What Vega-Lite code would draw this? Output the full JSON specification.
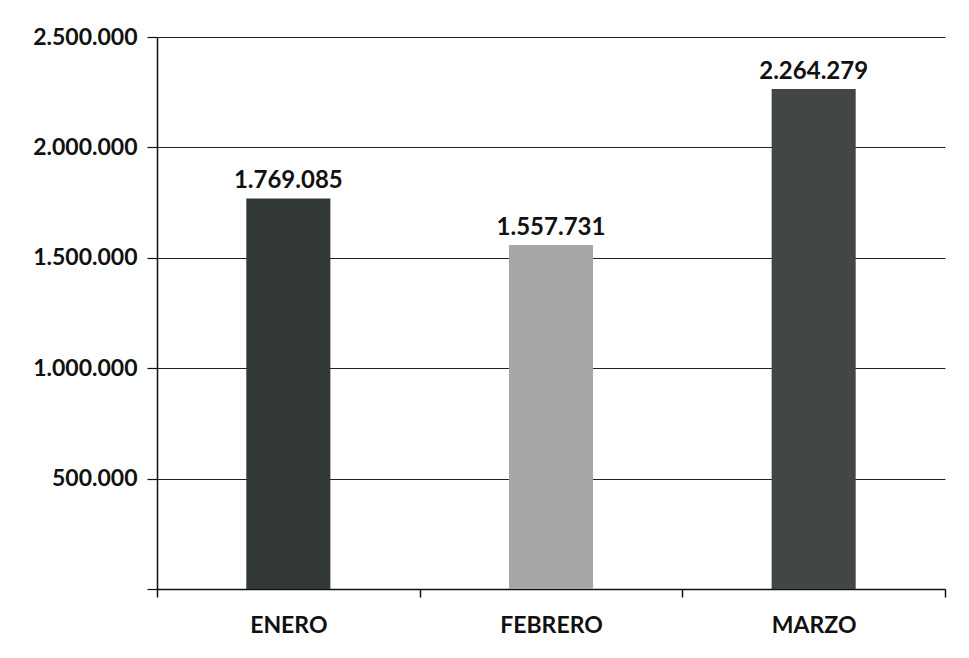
{
  "$schema": "https://vega.github.io/schema/vega-lite/v6.json",
  "width": 788,
  "height": 552,
  "autosize": {"type": "none"},
  "padding": {"left": 157, "top": 37, "right": 24, "bottom": 69},
  "background": "white",
  "config": {
    "view": {"stroke": null},
    "locale": {"number": {"decimal": ",", "thousands": ".", "grouping": [3], "currency": ["", ""]}},
    "font": "Lato"
  },
  "data": {
    "values": [
      {"mes": "ENERO", "valor": 1769085},
      {"mes": "FEBRERO", "valor": 1557731},
      {"mes": "MARZO", "valor": 2264279}
    ]
  },
  "encoding": {
    "x": {
      "field": "mes",
      "type": "nominal",
      "sort": null,
      "scale": {"paddingInner": 0, "paddingOuter": 0},
      "axis": {
        "title": null,
        "labelAngle": 0,
        "labelFont": "Lato",
        "labelFontWeight": "bold",
        "labelFontSize": 23,
        "labelColor": "#111",
        "labelPadding": 17,
        "domainColor": "#111",
        "domainWidth": 1.5,
        "tickColor": "#111",
        "tickSize": 8,
        "tickWidth": 1.5,
        "tickBand": "extent",
        "grid": false
      }
    },
    "y": {
      "field": "valor",
      "type": "quantitative",
      "scale": {"domain": [0, 2500000]},
      "axis": {
        "title": null,
        "values": [0, 500000, 1000000, 1500000, 2000000, 2500000],
        "labelExpr": "datum.value == 0 ? '' : format(datum.value, ',')",
        "labelFont": "Lato",
        "labelFontWeight": "bold",
        "labelFontSize": 23,
        "labelColor": "#111",
        "labelPadding": 10,
        "domainColor": "#111",
        "domainWidth": 1.5,
        "tickColor": "#111",
        "tickSize": 10,
        "tickWidth": 1.2,
        "grid": true,
        "gridColor": "#222",
        "gridWidth": 1.2
      }
    }
  },
  "layer": [
    {
      "mark": {"type": "bar", "width": {"band": 0.32}},
      "encoding": {
        "color": {
          "field": "mes",
          "type": "nominal",
          "scale": {"domain": ["ENERO", "FEBRERO", "MARZO"], "range": ["#323934", "#a6a6a6", "#424746"]},
          "legend": null
        }
      }
    },
    {
      "mark": {"type": "text", "baseline": "bottom", "dy": -5, "font": "Lato", "fontWeight": "bold", "fontSize": 24, "color": "#111"},
      "encoding": {
        "text": {"field": "valor", "type": "quantitative", "format": ","}
      }
    }
  ]
}
